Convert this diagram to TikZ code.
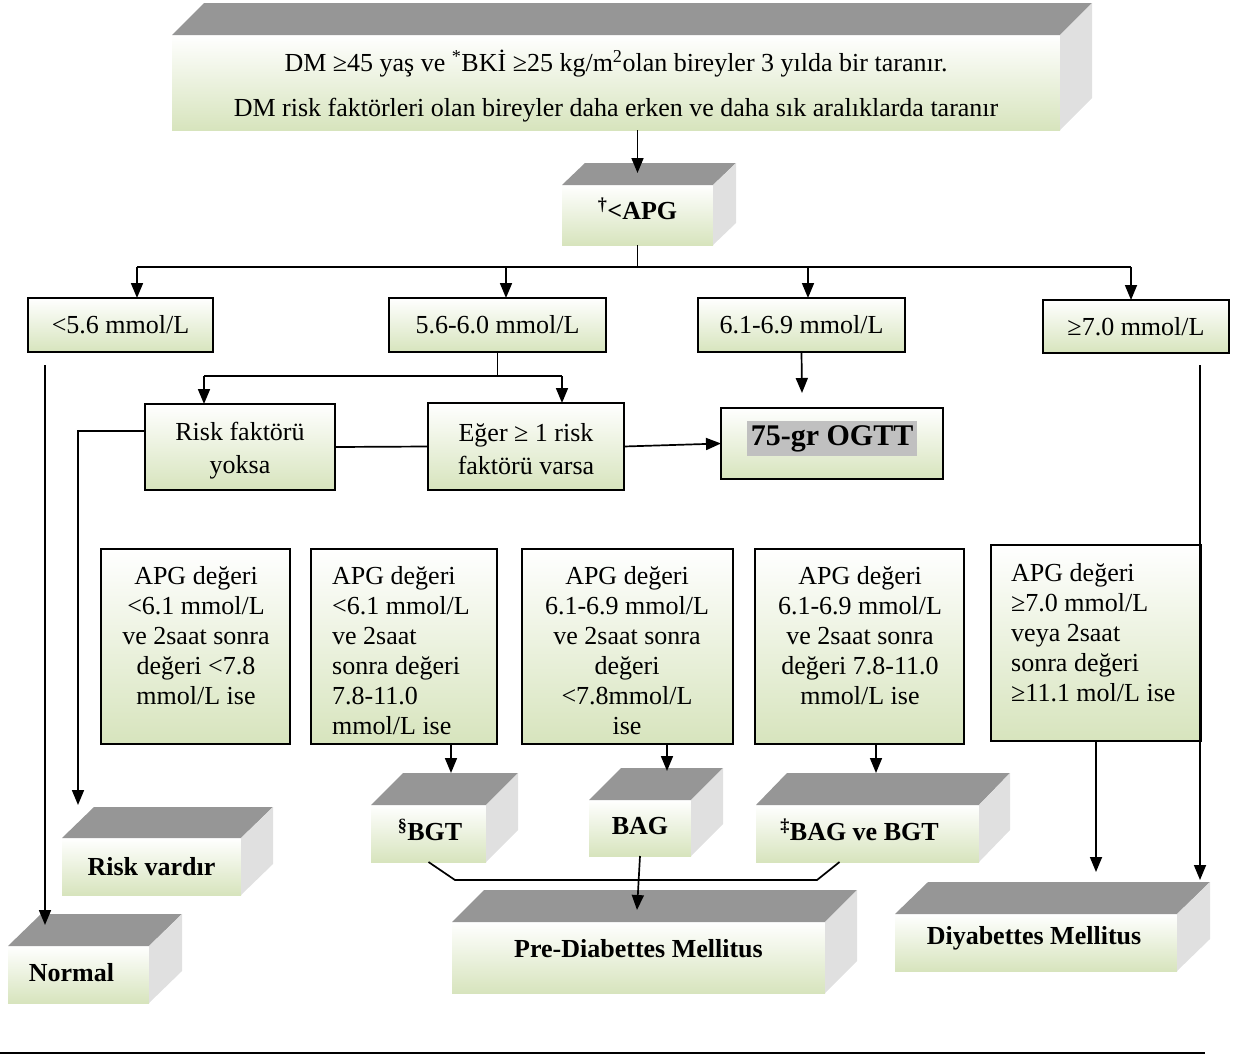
\documentclass[tikz,border=0pt]{standalone}
\usepackage{fontspec}
\setmainfont{Liberation Serif}
\usetikzlibrary{arrows.meta,calc}

\definecolor{facegreen}{RGB}{215,228,189}
\definecolor{topgray}{RGB}{150,150,150}
\definecolor{sidegray}{RGB}{224,224,224}
\definecolor{markgray}{RGB}{192,192,192}

\newcommand\bodyfont{\fontsize{26pt}{30pt}\selectfont}
\newcommand\labelfont{\fontsize{26pt}{30pt}\selectfont\bfseries}
\newcommand\topfont{\fontsize{26pt}{45pt}\selectfont}
% move a label up (positive) or down (negative) without changing its box
\newcommand\lift[2]{\raisebox{#1}[\height][\depth]{#2}}

\tikzset{
  front/.style={inner sep=0pt, outer sep=0pt, top color=white, bottom color=facegreen,
                align=center, font=\labelfont},
  flat/.style={draw, line width=2.2pt, inner sep=0pt, outer sep=0pt, top color=white,
               bottom color=facegreen, align=center, font=\bodyfont},
  bodytext/.style={inner sep=0pt, font=\bodyfont},
  link/.style={line width=1.7pt},
  arr/.style={line width=1.7pt, -{Triangle[length=15pt,width=12pt]}},
}

% solid box: [options]{name}{x1}{y1}{x2}{y2}{depth x}{depth y}{text}
\newcommand\solidbox[9][]{%
  \node[front, #1, minimum width={#5-#3}, minimum height={#6-#4}] (#2)
    at ({(#3+#5)/2},{(#4+#6)/2}) {#9};
  \fill[topgray] (#2.north west) -- ++(#7,-#8) -- ++({#5-#3},0) -- (#2.north east) -- cycle;
  \fill[sidegray] (#2.north east) -- ++(#7,-#8) -- ++(0,{#6-#4}) -- (#2.south east) -- cycle;
}
% framed box: [options]{name}{x1}{y1}{x2}{y2}{text}
\newcommand\flatbox[7][]{%
  \node[flat, #1, minimum width={#5-#3}, minimum height={#6-#4}] (#2)
    at ({(#3+#5)/2},{(#4+#6)/2}) {#7};
}

\begin{document}
\begin{tikzpicture}[x=1pt, y=-1pt]
\useasboundingbox (0,0) rectangle (1234,1055);

% screening criteria
\solidbox[font=\topfont]{top}{172}{35}{1060}{130}{32}{32}{\lift{-4pt}{DM ≥45 yaş ve \textsuperscript{*}BKİ ≥25 kg/m\textsuperscript{2}olan bireyler 3 yılda bir taranır.}\\\lift{-4pt}{DM risk faktörleri olan bireyler daha erken ve daha sık aralıklarda taranır}}

\solidbox{apg}{562}{185}{713}{245}{23}{22}{\lift{6pt}{\textsuperscript{†}<APG}}

% fasting glucose ranges
\flatbox{r1}{28}{298}{213}{352}{<5.6 mmol/L}
\flatbox{r2}{389}{298}{606}{352}{5.6-6.0 mmol/L}
\flatbox{r3}{698}{298}{905}{352}{6.1-6.9 mmol/L}
\flatbox{r4}{1043}{300}{1229}{353}{≥7.0 mmol/L}

\flatbox[font=\fontsize{26pt}{33pt}\selectfont]{rf0}{145}{404}{335}{490}{\lift{-4pt}{Risk faktörü}\\\lift{-4pt}{yoksa}}
\flatbox[font=\fontsize{26pt}{33pt}\selectfont]{rf1}{428}{403}{624}{490}{\lift{-3pt}{Eğer ≥ 1 risk}\\\lift{-3pt}{faktörü varsa}}
\flatbox{ogtt}{721}{408}{943}{479}{\lift{5pt}{\setlength{\fboxsep}{4pt}\colorbox{markgray}{\fontsize{30pt}{34pt}\selectfont\bfseries 75-gr OGTT}}}

% OGTT outcomes
\flatbox{b1}{101}{549}{290}{744}{}
\flatbox{b2}{311}{549}{497}{744}{}
\flatbox{b3}{522}{549}{733}{744}{}
\flatbox{b4}{755}{549}{964}{744}{}
\flatbox{b5}{991}{545}{1201}{741}{}

\node[bodytext, anchor=north, align=center] (b1t) at (196,566)
  {APG değeri\\<6.1 mmol/L\\ve 2saat sonra\\değeri <7.8\\mmol/L ise};
\node[bodytext, anchor=north west, align=left] (b2t) at (332,566)
  {APG değeri\\<6.1 mmol/L\\ve 2saat\\sonra değeri\\7.8-11.0\\mmol/L ise};
\node[bodytext, anchor=north, align=center] (b3t) at (627,566)
  {APG değeri\\6.1-6.9 mmol/L\\ve 2saat sonra\\değeri\\<7.8mmol/L\\ise};
\node[bodytext, anchor=north, align=center] (b4t) at (860,566)
  {APG değeri\\6.1-6.9 mmol/L\\ve 2saat sonra\\değeri 7.8-11.0\\mmol/L ise};
\node[bodytext, anchor=north west, align=left] (b5t) at (1011,563)
  {APG değeri\\≥7.0 mmol/L\\veya 2saat\\sonra değeri\\≥11.1 mol/L ise};

% results
\solidbox{rv}{62}{838}{241}{895}{32}{31}{Risk vardır}
\solidbox{nm}{8}{946}{149}{1003}{33}{32}{\hspace*{-14pt}\lift{2pt}{Normal}}
\solidbox{bgt}{371}{805}{486}{862}{32}{32}{\hspace*{3pt}\lift{4pt}{\textsuperscript{§}BGT}}
\solidbox{bag}{589}{800}{691}{856}{32}{32}{\lift{2pt}{BAG}}
\solidbox{bb}{756}{805}{979}{862}{31}{32}{\hspace*{-16pt}\lift{4pt}{\textsuperscript{‡}BAG ve BGT}}
\solidbox{pre}{452}{922}{825}{993}{32}{32}{\lift{9pt}{Pre-Diabettes Mellitus}}
\solidbox{dm}{895}{914}{1177}{971}{33}{32}{\hspace*{-4pt}\lift{4pt}{Diyabettes Mellitus}}

% connectors
\draw[arr] (apg |- top.south) -- ($(apg.north)+(0,-12)$);

\coordinate (jm) at (apg.south |- 0,267);
\coordinate (ja) at (137,267);
\coordinate (jb) at (506,267);
\coordinate (jc) at (808,267);
\coordinate (jd) at (1131,267);
\draw[link] (apg.south) -- (jm);
\draw[link] (ja) -- (jd);
\draw[arr] (ja) -- (ja |- r1.north);
\draw[arr] (jb) -- (jb |- r2.north);
\draw[arr] (jc) -- (jc |- r3.north);
\draw[arr] (jd) -- (jd |- r4.north);

\coordinate (kl) at (204,376);
\coordinate (kr) at (562,376);
\draw[link] (r2.south) -- (r2.south |- kl);
\draw[link] (kl) -- (kr);
\draw[arr] (kl) -- (kl |- rf0.north);
\draw[arr] (kr) -- (kr |- rf1.north);

\draw[link] (rf0.east) -- (rf1.west);
\draw[arr] (rf1.east) -- (ogtt.west);

\coordinate (r3tip) at (802,393);
\draw[arr] (r3.south) -- (r3tip);

\coordinate (rvtip) at (78,805);
\draw[arr] ($(rf0.north west)!0.31!(rf0.south west)$) -| (rvtip);

\coordinate (ntop) at (45,365);
\coordinate (ntip) at (45,925);
\draw[arr] (ntop) -- (ntip);

\coordinate (dtop) at (1200,365);
\coordinate (dtip) at (1200,880);
\draw[arr] (dtop) -- (dtip);

\coordinate (dtip2) at (1096,872);
\draw[arr] (b5.south) -- (dtip2);

\coordinate (g1) at (451,773);
\coordinate (g2) at (667,771);
\coordinate (g3) at (876,773);
\draw[arr] (g1 |- b2.south) -- (g1);
\draw[arr] (g2 |- b3.south) -- (g2);
\draw[arr] (g3 |- b4.south) -- (g3);

\coordinate (q1) at (455,880);
\coordinate (q2) at (817,880);
\draw[link] (bgt.south) -- (q1) -- (q2) -- ($(bb.south)+(-28,0)$);

\coordinate (ptip) at (637,910);
\draw[arr] (bag.south) -- (ptip);

% footnote rule
\coordinate (rl) at (0,1053);
\coordinate (rr) at (1205,1053);
\draw[line width=2pt] (rl) -- (rr);
\end{tikzpicture}
\end{document}
